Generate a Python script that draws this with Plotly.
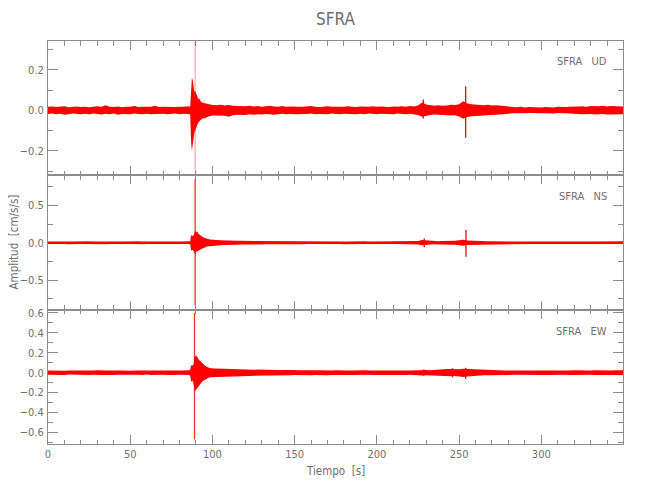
import numpy as np
import plotly.graph_objects as go
from plotly.subplots import make_subplots

# ---------------- data (amplitudes in 1e-3 cm/s/s) ----------------
# time grid of the envelope samples [s]
t_a = np.arange(0, 85.01, 2.5)       # 35 samples
t_b = np.arange(85.5, 100.01, 0.5)   # 30 samples (main arrival)
t_c = np.arange(102.5, 350.01, 2.5)  # 100 samples
t_env = np.concatenate([t_a, t_b, t_c])

# ---- UD component: upper / lower envelope
ud_hi = [17,19,16,18,20,15,17,19,16,18, 15,17,20,18,25,17,16,19,15,18,
         17,21,16,18,19,17,22,16,18,17, 19,16,18,17,20,
         18,17,20,110,160,150,120,90,95,85, 70,60,55,58,45,42,40,38,40,35,
         33,36,30,32,30,28,30,27,28,26,
         25,27,24,26,22,21,23,20,22,19, 21,18,20,22,19,18,21,17,19,20,
         18,17,19,21,18,16,18,20,17,19, 18,17,20,18,16,19,17,18,20,17,
         19,18,16,19,17,20,18,21,19,24, 38,28,24,22,25,22,24,27,26,30,
         45,34,30,28,26,25,27,24,25,23, 22,18,16,15,17,14,16,15,17,14,
         16,15,14,17,15,16,18,17,19,20, 18,21,19,20,22,19,21,20,22,19]
ud_lo = [-18,-16,-20,-17,-22,-19,-16,-18,-20,-17, -19,-16,-18,-21,-17,-19,-16,-22,-18,-17,
         -19,-16,-18,-20,-17,-19,-16,-18,-17,-20, -18,-16,-19,-17,-18,
         -17,-19,-22,-150,-200,-180,-140,-110,-100,-90, -80,-66,-60,-55,-50,-45,-42,-40,-38,-40,
         -35,-33,-34,-30,-31,-29,-30,-27,-28,-26,
         -26,-25,-27,-32,-24,-22,-21,-23,-20,-22, -19,-21,-18,-20,-22,-19,-17,-20,-18,-19,
         -17,-19,-18,-16,-20,-18,-17,-19,-16,-18, -19,-17,-16,-18,-20,-17,-19,-16,-18,-19,
         -17,-19,-18,-20,-16,-18,-19,-17,-20,-23, -32,-27,-23,-21,-24,-22,-25,-26,-25,-31,
         -42,-33,-29,-27,-25,-24,-26,-23,-22,-21, -20,-17,-15,-16,-14,-15,-13,-16,-14,-15,
         -15,-14,-16,-13,-15,-14,-17,-16,-18,-19, -20,-18,-21,-19,-18,-21,-20,-19,-21,-20]
ud_spk_t = [89.5, 228.3, 254.0]
ud_spk_hi = [345, 53, 118]
ud_spk_lo = [-305, -41, -135]

# ---- NS component
ns_hi = [16,18,15,17,19,16,15,18,17,16, 19,15,17,16,18,20,16,17,15,18,
         16,17,19,16,15,18,17,16,18,15, 17,16,18,17,19,
         17,18,20,100,95,90,100,130,150,150, 145,140,120,110,100,90,80,75,70,65,
         60,58,55,50,48,45,44,42,40,38,
         36,34,30,28,27,26,25,24,26,23, 24,22,21,23,20,21,19,22,20,18,
         20,19,18,21,17,19,18,20,17,18, 19,17,18,20,16,18,19,17,18,16,
         18,17,19,16,18,17,20,18,19,22, 35,30,24,22,20,24,22,25,28,32,
         40,30,26,24,22,21,20,19,18,20, 17,18,16,17,19,16,17,18,16,17,
         18,16,17,19,17,18,16,17,19,18, 17,18,20,17,18,19,17,20,18,19]
ns_lo = [-17,-15,-18,-16,-17,-19,-16,-15,-18,-17, -16,-18,-15,-17,-19,-16,-18,-15,-17,-16,
         -18,-17,-15,-19,-16,-17,-18,-15,-17,-16, -18,-17,-15,-18,-17,
         -17,-19,-22,-100,-105,-95,-110,-130,-150,-125, -120,-118,-110,-100,-95,-88,-80,-75,-70,-66,
         -60,-56,-52,-50,-47,-45,-43,-41,-40,-38,
         -36,-33,-30,-29,-26,-27,-24,-25,-23,-24, -22,-23,-21,-20,-22,-19,-21,-20,-18,-19,
         -18,-20,-17,-19,-18,-17,-19,-18,-20,-17, -18,-19,-17,-16,-18,-19,-17,-18,-16,-18,
         -17,-19,-18,-16,-17,-19,-18,-17,-20,-23, -35,-28,-23,-21,-22,-21,-23,-26,-27,-33,
         -42,-31,-25,-23,-21,-20,-19,-20,-18,-19, -17,-16,-18,-17,-16,-18,-17,-16,-18,-17,
         -16,-18,-17,-16,-18,-17,-19,-16,-18,-17, -18,-17,-19,-18,-17,-20,-18,-17,-19,-18]
ns_spk_t = [89.5, 228.8, 254.2]
ns_spk_hi = [850, 58, 170]
ns_spk_lo = [-835, -60, -187]

# ---- EW component
ew_hi = [22,20,24,21,19,23,22,20,25,21, 19,22,24,20,21,23,19,22,21,24,
         20,22,19,23,21,20,24,22,19,21, 23,20,22,21,24,
         22,24,30,77,70,75,80,150,170,175, 165,150,130,125,120,110,100,90,80,72,
         70,65,60,55,52,48,45,46,43,42,
         42,40,38,36,35,34,33,35,32,30, 31,29,28,30,27,26,28,25,27,26,
         24,26,25,23,25,24,22,24,23,25, 22,24,23,21,23,22,24,21,23,22,
         21,23,22,24,21,22,23,21,24,26, 30,27,25,26,28,30,36,38,33,35,
         40,38,32,30,28,27,25,26,24,25, 23,22,24,21,23,22,20,23,21,22,
         24,21,23,22,20,23,21,24,22,23, 21,23,24,22,25,23,22,24,23,25]
ew_lo = [-21,-23,-20,-22,-24,-19,-21,-23,-20,-22, -24,-21,-19,-23,-22,-20,-24,-21,-19,-22,
         -23,-20,-21,-24,-19,-22,-20,-23,-21,-22, -20,-24,-21,-19,-23,
         -22,-24,-30,-90,-85,-80,-95,-150,-190,-170, -156,-140,-128,-123,-115,-105,-95,-85,-78,-72,
         -68,-63,-58,-55,-52,-48,-46,-45,-43,-42,
         -42,-41,-38,-37,-35,-34,-32,-34,-31,-30, -30,-29,-28,-27,-28,-26,-27,-25,-26,-24,
         -25,-23,-24,-26,-22,-24,-23,-25,-22,-24, -23,-21,-24,-22,-23,-21,-22,-24,-21,-23,
         -22,-24,-21,-23,-22,-20,-23,-21,-22,-25, -29,-26,-24,-25,-27,-29,-34,-36,-32,-36,
         -42,-37,-31,-29,-27,-26,-25,-24,-23,-25, -22,-23,-21,-22,-24,-21,-22,-20,-23,-21,
         -22,-24,-21,-23,-22,-20,-23,-22,-21,-24, -22,-21,-24,-23,-22,-25,-23,-22,-24,-23]
ew_spk_t = [89.1, 228.5, 246.0, 254.0]
ew_spk_hi = [600, 32, 44, 50]
ew_spk_lo = [-670, -30, -46, -60]

station = "SFRA"
components = ["UD", "NS", "EW"]
y_ranges = [[-0.321, 0.342], [-0.897, 0.903], [-0.716, 0.633]]
y_dticks = [0.2, 0.5, 0.2]
y_minor = [0.1, 0.25, 0.1]

for arr in (ud_hi, ud_lo, ns_hi, ns_lo, ew_hi, ew_lo):
    assert len(arr) == len(t_env), (len(arr), len(t_env))

# ---------------- figure ----------------
FONT = "DejaVu Sans Condensed, Liberation Sans, sans-serif"
TXT = "#6e6e6e"
AX = "#8c8c8c"
RED = "#ff0000"

fig = make_subplots(rows=3, cols=1, shared_xaxes=True, vertical_spacing=0)

panels = [
    (ud_hi, ud_lo, ud_spk_t, ud_spk_hi, ud_spk_lo, ["rgba(255,0,0,0.32)", RED, RED]),
    (ns_hi, ns_lo, ns_spk_t, ns_spk_hi, ns_spk_lo, ["rgba(255,0,0,0.85)", RED, RED]),
    (ew_hi, ew_lo, ew_spk_t, ew_spk_hi, ew_spk_lo, ["rgba(255,0,0,0.8)", RED, RED, RED]),
]

tx = list(t_env)
for i, (hi, lo, st, sh, sl, scol) in enumerate(panels):
    row = i + 1
    hi_v = [v / 1000 for v in hi]
    lo_v = [v / 1000 for v in lo]
    fig.add_trace(go.Scatter(
        x=tx + tx[::-1], y=hi_v + lo_v[::-1], mode="lines", fill="toself",
        fillcolor=RED, line=dict(color="rgba(255,0,0,0)", width=0), hoverinfo="skip",
        showlegend=False), row=row, col=1)
    for t, h, l, c in zip(st, sh, sl, scol):
        fig.add_trace(go.Scatter(
            x=[t, t], y=[l / 1000, h / 1000], mode="lines",
            line=dict(color=c, width=1.3), hoverinfo="skip", showlegend=False),
            row=row, col=1)

axis_common = dict(showline=True, linecolor=AX, linewidth=1, mirror="ticks",
                   ticks="inside", tickcolor=AX, showgrid=False, zeroline=False,
                   automargin=False, layer="below traces",
                   tickfont=dict(family=FONT, size=11, color=TXT))

for i in range(3):
    row = i + 1
    fig.update_xaxes(range=[0, 349.7], tick0=0, dtick=50, ticklen=9,
                     minor=dict(dtick=10, ticklen=4.5, ticks="inside", tickcolor=AX),
                     showticklabels=(row == 3), **axis_common, row=row, col=1)
    fig.update_yaxes(range=y_ranges[i], tick0=0, dtick=y_dticks[i], ticklen=10,
                     tickformat=".1f", ticklabelstandoff=1,
                     minor=dict(dtick=y_minor[i], ticklen=5, ticks="inside", tickcolor=AX),
                     **axis_common, row=row, col=1)

label_y = [0.9497, 0.615, 0.279]
for comp, ly in zip(components, label_y):
    fig.add_annotation(xref="paper", yref="paper", x=0.9757, y=ly, xanchor="right",
                       yanchor="middle", showarrow=False,
                       text=station + "\u00a0\u00a0\u00a0" + comp,
                       font=dict(family=FONT, size=11, color=TXT))

fig.add_annotation(xref="paper", yref="paper", x=-0.0585, y=0.501, textangle=-90,
                   showarrow=False, xanchor="center", yanchor="middle",
                   text="Amplitud\u00a0\u00a0[cm/s/s]",
                   font=dict(family=FONT, size=11.5, color=TXT))
fig.add_annotation(xref="paper", yref="paper", x=0.5, y=-0.068, showarrow=False,
                   xanchor="center", yanchor="middle", text="Tiempo\u00a0\u00a0[s]",
                   font=dict(family=FONT, size=11.5, color=TXT))
fig.add_annotation(xref="paper", yref="paper", x=0.5, y=1.0558, showarrow=False,
                   xanchor="center", yanchor="middle", text=station,
                   font=dict(family=FONT, size=17, color=TXT))

# the page body has an 8 px margin, so the figure is sized/offset to compensate
fig.update_layout(
    width=634, height=484,
    margin=dict(l=40, r=19, t=33, b=48),
    paper_bgcolor="white", plot_bgcolor="white",
    showlegend=False,
)

fig.write_html("out.html")
